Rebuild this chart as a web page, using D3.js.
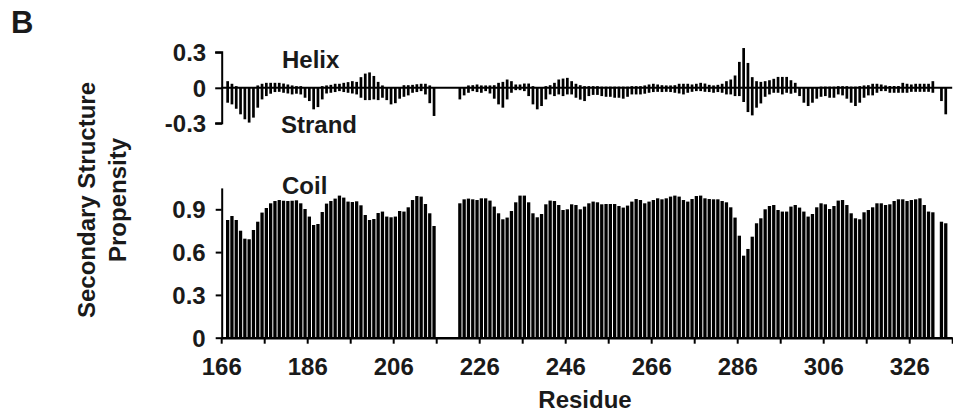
<!DOCTYPE html>
<html><head><meta charset="utf-8">
<script src="https://cdn.jsdelivr.net/npm/d3@7"></script>
<style>
html,body{margin:0;padding:0;background:#fff;}
svg text{font-family:"Liberation Sans",Arial,Helvetica,sans-serif;font-weight:bold;fill:#1a1a1a;}
</style></head><body>
<svg id="chart" width="953" height="413"></svg>
<script>
// ---------- data ----------
const firstResidue = 167;          // first residue with a value
const axisStart = 166, axisEnd = 336;
const xTickLabels = [166, 186, 206, 226, 246, 266, 286, 306, 326];
const topTicks = [-0.3, 0, 0.3];
const bottomTicks = [0, 0.3, 0.6, 0.9];

const helix = [
 0.056,0.034,0.014,0,0,0,0,0.02,0.034,0.042,
 0.042,0.042,0.042,0.036,0.028,0.02,0.014,0.014,0,0,
 0,0,0.014,0.02,0.025,0.034,0.034,0.042,0.048,0.056,
 0.05,0.09,0.12,0.13,0.1,0.05,0.02,0,0,0,
 0,0.022,0.022,0.025,0.03,0.034,0.034,0.02,0,null,
 null,null,null,null,0,0,0.02,0.022,0.028,0.02,
 0.02,0.02,0.022,0.042,0.05,0.07,0.056,0.028,0.028,0.036,
 0.036,0.014,0,0,0.014,0.022,0.042,0.07,0.078,0.084,
 0.056,0.034,0.022,0.014,0.014,0.014,0.014,0.01,0.01,0.01,
 0.01,0.01,0.01,0.01,0.014,0.014,0.014,0.02,0.028,0.034,
 0.028,0.022,0.02,0.02,0.022,0.034,0.034,0.034,0.028,0.034,
 0.042,0.036,0.025,0.02,0.025,0.034,0.056,0.07,0.104,0.219,
 0.336,0.21,0.09,0.056,0.05,0.056,0.064,0.076,0.092,0.092,
 0.092,0.064,0.042,0,0,0,0,0,0.01,0.01,
 0.01,0.01,0.014,0.014,0.014,0.01,0.01,0.014,0.02,0.022,
 0.034,0.034,0.028,0.02,0.015,0.015,0.015,0.042,0.034,0.028,
 0.034,0.034,0.034,0.034,0.056,null,0,0,null
];
const strand = [
 -0.126,-0.14,-0.177,-0.224,-0.266,-0.294,-0.252,-0.168,-0.098,-0.07,
 -0.05,-0.036,-0.034,-0.042,-0.048,-0.056,-0.05,-0.056,-0.084,-0.112,
 -0.182,-0.163,-0.098,-0.048,-0.042,-0.036,-0.028,-0.036,-0.042,-0.048,
 -0.056,-0.084,-0.104,-0.104,-0.098,-0.104,-0.084,-0.104,-0.14,-0.13,
 -0.092,-0.076,-0.064,-0.042,-0.036,-0.028,-0.056,-0.13,-0.238,null,
 null,null,null,null,-0.098,-0.064,-0.042,-0.028,-0.036,-0.042,
 -0.028,-0.048,-0.092,-0.14,-0.168,-0.098,-0.042,-0.02,-0.02,-0.028,
 -0.07,-0.14,-0.182,-0.154,-0.098,-0.056,-0.07,-0.056,-0.07,-0.056,
 -0.056,-0.084,-0.1,-0.112,-0.07,-0.06,-0.06,-0.07,-0.076,-0.076,
 -0.084,-0.084,-0.092,-0.076,-0.056,-0.056,-0.056,-0.05,-0.042,-0.036,
 -0.034,-0.036,-0.034,-0.036,-0.042,-0.048,-0.056,-0.042,-0.034,-0.028,
 -0.028,-0.034,-0.036,-0.042,-0.036,-0.042,-0.056,-0.056,-0.07,-0.07,
 -0.12,-0.205,-0.233,-0.168,-0.132,-0.076,-0.056,-0.042,-0.042,-0.056,
 -0.042,-0.05,-0.042,-0.07,-0.126,-0.154,-0.126,-0.092,-0.076,-0.07,
 -0.084,-0.084,-0.056,-0.064,-0.092,-0.126,-0.154,-0.126,-0.084,-0.064,
 -0.064,-0.042,-0.028,-0.028,-0.042,-0.042,-0.042,-0.042,-0.042,-0.034,
 -0.034,-0.034,-0.034,-0.034,-0.042,null,-0.112,-0.224,null
];
const coil = [
 0.825,0.853,0.825,0.75,0.694,0.69,0.755,0.813,0.877,0.909,
 0.942,0.958,0.965,0.96,0.958,0.96,0.963,0.942,0.902,0.849,
 0.79,0.797,0.881,0.94,0.958,0.975,0.996,0.982,0.954,0.951,
 0.956,0.928,0.86,0.825,0.832,0.874,0.884,0.849,0.844,0.849,
 0.888,0.884,0.914,0.965,0.993,0.989,0.937,0.872,0.783,null,
 null,null,null,null,0.942,0.97,0.975,0.97,0.965,0.977,
 0.977,0.961,0.919,0.872,0.83,0.842,0.888,0.949,0.996,0.996,
 0.949,0.872,0.844,0.867,0.935,0.961,0.958,0.93,0.895,0.9,
 0.935,0.93,0.9,0.919,0.942,0.954,0.949,0.935,0.937,0.937,
 0.937,0.923,0.912,0.926,0.954,0.972,0.965,0.942,0.954,0.965,
 0.977,0.97,0.977,0.989,0.996,0.989,0.965,0.954,0.972,0.993,
 0.996,0.977,0.972,0.97,0.97,0.958,0.949,0.914,0.842,0.715,
 0.575,0.622,0.708,0.802,0.837,0.9,0.923,0.93,0.895,0.884,
 0.884,0.919,0.93,0.912,0.884,0.849,0.867,0.914,0.942,0.935,
 0.902,0.923,0.961,0.965,0.93,0.872,0.837,0.83,0.879,0.895,
 0.914,0.942,0.942,0.93,0.935,0.958,0.97,0.97,0.958,0.965,
 0.97,0.977,0.93,0.884,0.879,null,0.813,0.802,null
];

// ---------- layout ----------
const svg = d3.select("#chart");
const ink = "#000";
const x = d3.scaleLinear().domain([axisStart, axisEnd]).range([221.2, 952.2]);
const yTop = d3.scaleLinear().domain([-0.3, 0.3]).range([123.3, 52.3]);
const yBot = d3.scaleLinear().domain([0, 1.05]).range([337.7, 187.9]);
const step = x(axisStart + 1) - x(axisStart);
const topW = 2.7, botW = 3.3;
const fmt = d => d === 0 ? "0" : d3.format(".1f")(d).replace("\u2212", "-");

const rows = helix.map((h, i) => ({r: firstResidue + i, h, s: strand[i], c: coil[i]}));

// top panel bars
const gTop = svg.append("g");
gTop.selectAll("rect.h").data(rows.filter(d => d.h != null && d.h > 0)).join("rect")
  .attr("x", d => x(d.r) + (step - topW) / 2).attr("width", topW)
  .attr("y", d => yTop(d.h)).attr("height", d => yTop(0) - yTop(d.h)).attr("fill", ink);
gTop.selectAll("rect.s").data(rows.filter(d => d.s != null && d.s < 0)).join("rect")
  .attr("x", d => x(d.r) + (step - topW) / 2).attr("width", topW)
  .attr("y", yTop(0)).attr("height", d => yTop(d.s) - yTop(0)).attr("fill", ink);

// top axis
const topAxis = svg.append("g").attr("transform", `translate(${x(axisStart) + 1},0)`)
  .call(d3.axisLeft(yTop).tickValues(topTicks).tickSize(7).tickPadding(9).tickFormat(fmt));
topAxis.select(".domain").attr("stroke", ink).attr("stroke-width", 2).attr("d", `M-7,${yTop(0.3)}H0V${yTop(-0.3)}H-7`);
topAxis.selectAll(".tick line").attr("stroke", ink).attr("stroke-width", 2);
topAxis.selectAll(".tick text").style("font-size", "24px").attr("dy", "0.36em");
// zero line
svg.append("line").attr("x1", x(axisStart)).attr("x2", x(axisEnd))
  .attr("y1", yTop(0)).attr("y2", yTop(0)).attr("stroke", ink).attr("stroke-width", 2);

// bottom panel bars
svg.append("g").selectAll("rect").data(rows.filter(d => d.c != null)).join("rect")
  .attr("x", d => x(d.r) + (step - botW) / 2).attr("width", botW)
  .attr("y", d => yBot(d.c)).attr("height", d => yBot(0) - yBot(d.c)).attr("fill", ink);

// bottom y axis
const botAxis = svg.append("g").attr("transform", `translate(${x(axisStart) + 0.5},0)`)
  .call(d3.axisLeft(yBot).tickValues(bottomTicks).tickSize(6).tickPadding(10).tickSizeOuter(0).tickFormat(fmt));
botAxis.select(".domain").attr("stroke", ink).attr("stroke-width", 2);
botAxis.selectAll(".tick line").attr("stroke", ink).attr("stroke-width", 2);
botAxis.selectAll(".tick text").style("font-size", "24px").attr("dy", "0.36em");

// x axis
const xAxis = svg.append("g").attr("transform", `translate(0,${yBot(0)})`)
  .call(d3.axisBottom(x).tickValues(d3.range(axisStart, axisEnd + 1, 10)).tickSize(6).tickSizeOuter(0)
    .tickPadding(14).tickFormat(d => xTickLabels.includes(d) ? d : ""));
xAxis.select(".domain").attr("stroke", ink).attr("stroke-width", 2.5);
xAxis.selectAll(".tick line").attr("stroke", ink).attr("stroke-width", 2);
xAxis.selectAll(".tick text").style("font-size", "24px");

// labels
const txt = (s, xx, yy, size, anchor) => svg.append("text").attr("x", xx).attr("y", yy)
  .style("font-size", size + "px").attr("text-anchor", anchor || "start").text(s);
txt("B", 11, 33, 31);
txt("Helix", 282, 68, 24);
txt("Strand", 281, 133, 24);
txt("Coil", 282, 194, 24);
txt("Residue", 585, 408, 24, "middle");
const yt = svg.append("g");
yt.append("text").attr("transform", "translate(94.5,200) rotate(-90)").attr("text-anchor", "middle")
  .style("font-size", "24px").text("Secondary Structure");
yt.append("text").attr("transform", "translate(125.5,200) rotate(-90)").attr("text-anchor", "middle")
  .style("font-size", "24px").text("Propensity");
</script>
</body></html>
